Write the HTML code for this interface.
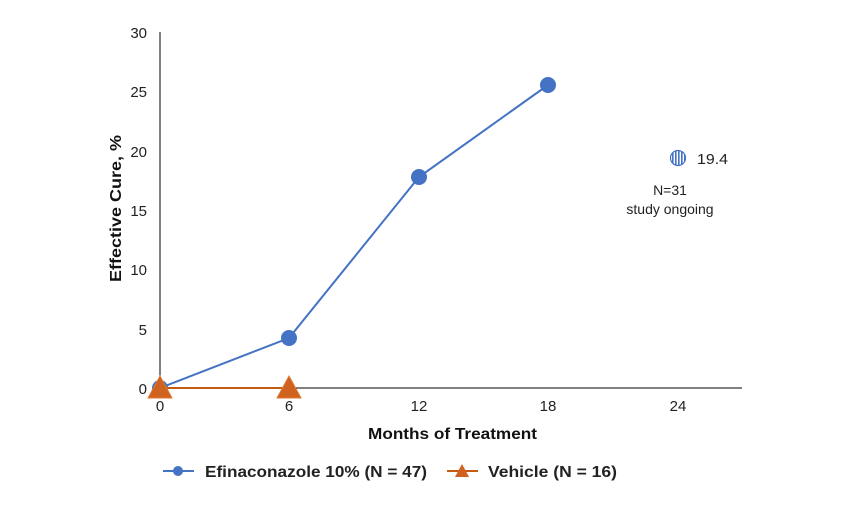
<!DOCTYPE html>
<html><head><style>body{margin:0;background:#fff}</style></head><body>
<svg width="842" height="523" xmlns="http://www.w3.org/2000/svg" font-family="Liberation Sans, Arial, sans-serif">
<defs><pattern id="vs" width="3" height="10" patternUnits="userSpaceOnUse"><rect width="3" height="10" fill="#fff"/><rect width="1.6" height="10" fill="#4472C4"/></pattern></defs>
<line x1="160" y1="32" x2="160" y2="388" stroke="#000" stroke-width="1"/>
<line x1="160" y1="388" x2="742" y2="388" stroke="#000" stroke-width="1"/>
<g font-size="15" fill="#222" text-anchor="end">
<text x="147" y="38">30</text><text x="147" y="97">25</text><text x="147" y="157">20</text>
<text x="147" y="216">15</text><text x="147" y="275">10</text><text x="147" y="335">5</text><text x="147" y="394">0</text>
</g>
<g font-size="15" fill="#222" text-anchor="middle">
<text x="160" y="411">0</text><text x="289" y="411">6</text><text x="419" y="411">12</text><text x="548" y="411">18</text><text x="678" y="411">24</text>
</g>
<text x="368" y="439" font-size="16" font-weight="bold" fill="#111" textLength="169" lengthAdjust="spacingAndGlyphs">Months of Treatment</text>
<text transform="translate(121,282) rotate(-90)" font-size="16" font-weight="bold" fill="#111" textLength="147" lengthAdjust="spacingAndGlyphs">Effective Cure, %</text>
<polyline points="160,388 289,338 419,177 548,85" fill="none" stroke="#4472C4" stroke-width="2"/>
<g fill="#4472C4"><circle cx="160" cy="388" r="8"/><circle cx="289" cy="338" r="8"/><circle cx="419" cy="177" r="8"/><circle cx="548" cy="85" r="8"/></g>
<line x1="160" y1="388" x2="289" y2="388" stroke="#C55A11" stroke-width="2"/>
<g fill="#D0621F" stroke="#E07A30" stroke-width="1"><polygon points="160,376 148,398 172,398"/><polygon points="289,376 277,398 301,398"/></g>
<circle cx="678" cy="158" r="7.5" fill="url(#vs)" stroke="#4472C4" stroke-width="1.2"/>
<text x="697" y="164" font-size="15" fill="#222" textLength="31" lengthAdjust="spacingAndGlyphs">19.4</text>
<text x="670" y="195" font-size="14" fill="#222" text-anchor="middle">N=31</text>
<text x="670" y="214" font-size="14" fill="#222" text-anchor="middle">study ongoing</text>
<line x1="163" y1="471" x2="194" y2="471" stroke="#4472C4" stroke-width="2"/><circle cx="178" cy="471" r="5" fill="#4472C4"/>
<text x="205" y="477" font-size="16" font-weight="bold" fill="#222" textLength="222" lengthAdjust="spacingAndGlyphs">Efinaconazole 10% (N = 47)</text>
<line x1="447" y1="471" x2="478" y2="471" stroke="#C55A11" stroke-width="2"/><polygon points="462,464 455,477 469,477" fill="#D0621F"/>
<text x="488" y="477" font-size="16" font-weight="bold" fill="#222" textLength="129" lengthAdjust="spacingAndGlyphs">Vehicle (N = 16)</text>
</svg>
</body></html>
